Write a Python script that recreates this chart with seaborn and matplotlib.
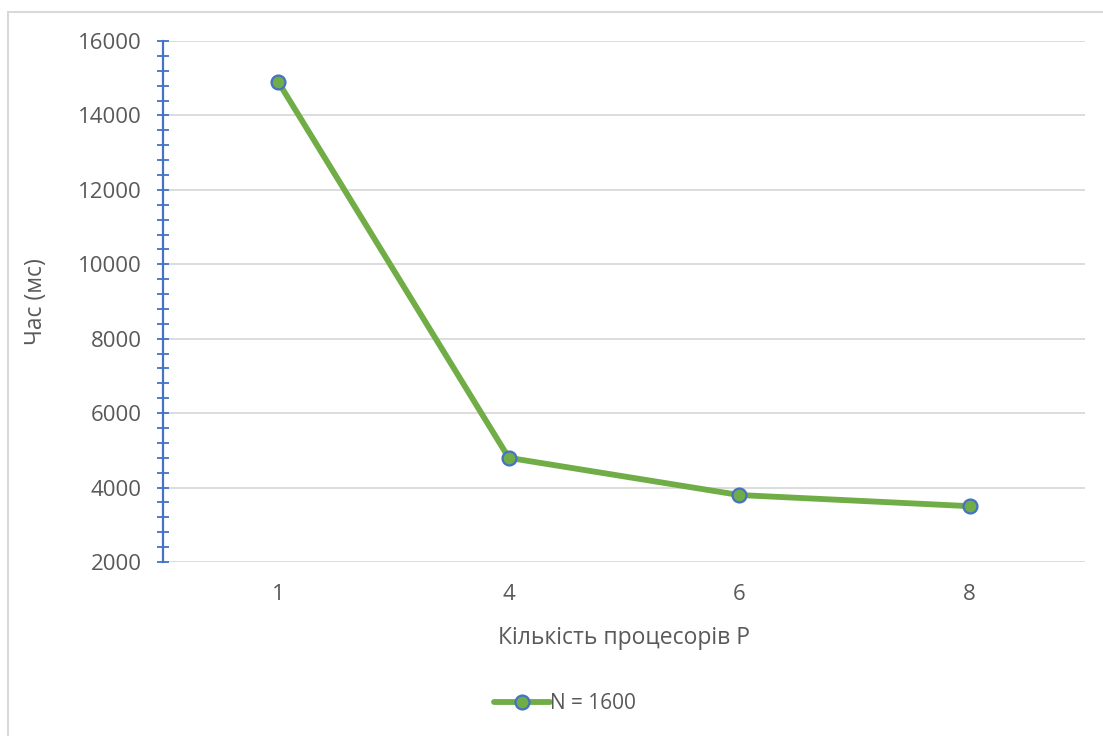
import matplotlib
matplotlib.use("Agg")
import matplotlib.pyplot as plt
from matplotlib.patches import Rectangle
from matplotlib.ticker import MultipleLocator
import seaborn as sns
import pandas as pd

# Execution time vs number of processors
processors = ["1", "4", "6", "8"]
time_ms = [14900, 4800, 3800, 3500]
series_name = "N = 1600"

x_label = "Кількість процесорів P"
y_label = "Час (мс)"

GREEN = "#70AD47"
BLUE = "#4472C4"
TEXT = "#595959"
GRID = "#D9D9D9"

sns.set_theme(style="white")
plt.rcParams["font.family"] = ["Open Sans", "DejaVu Sans"]

df = pd.DataFrame({"P": processors, "t": time_ms, "series": series_name})

fig = plt.figure(figsize=(11.03, 7.36), dpi=100)
ax = fig.add_axes([163 / 1103, 1 - 562 / 736, (1085 - 163) / 1103, (562 - 41) / 736])

# outer chart frame
fig.patches.append(Rectangle((8 / 1103, -0.05), 1.2, 1 - 12 / 736 + 0.05,
                             transform=fig.transFigure, fill=False,
                             edgecolor=GRID, linewidth=1.5, zorder=0))

sns.lineplot(data=df, x="P", y="t", hue="series", palette=[GREEN], ax=ax,
             linewidth=4.2, marker="o", markersize=10,
             markerfacecolor=GREEN, markeredgecolor=BLUE, markeredgewidth=1.6,
             sort=False, zorder=3)

ax.set_xlim(-0.5, 3.5)
ax.set_ylim(2000, 16000)
ax.yaxis.set_major_locator(MultipleLocator(2000))
ax.yaxis.set_minor_locator(MultipleLocator(400))
ax.grid(axis="y", which="major", color=GRID, linewidth=1.3)
ax.set_axisbelow(True)

for side in ["top", "right", "bottom"]:
    ax.spines[side].set_visible(False)
ax.spines["left"].set_color(BLUE)
ax.spines["left"].set_linewidth(1.6)
ax.spines["left"].set_zorder(2.5)

ax.tick_params(axis="y", which="both", left=True, direction="inout", color=BLUE,
               width=1.3, length=8.5, labelsize=16, labelcolor=TEXT, pad=11)
ax.tick_params(axis="x", length=0, labelsize=16, labelcolor=TEXT, pad=16)

ax.set_xlabel(x_label, fontsize=16.5, color=TEXT, labelpad=15)
ax.set_ylabel(y_label, fontsize=16.5, color=TEXT, labelpad=22)

leg = ax.legend(loc="center", bbox_to_anchor=(0.436, -0.272), frameon=False,
                fontsize=15, handlelength=2.7, handletextpad=0.0)
for t in leg.get_texts():
    t.set_color(TEXT)

fig.savefig("out.png", dpi=100, facecolor="white")
